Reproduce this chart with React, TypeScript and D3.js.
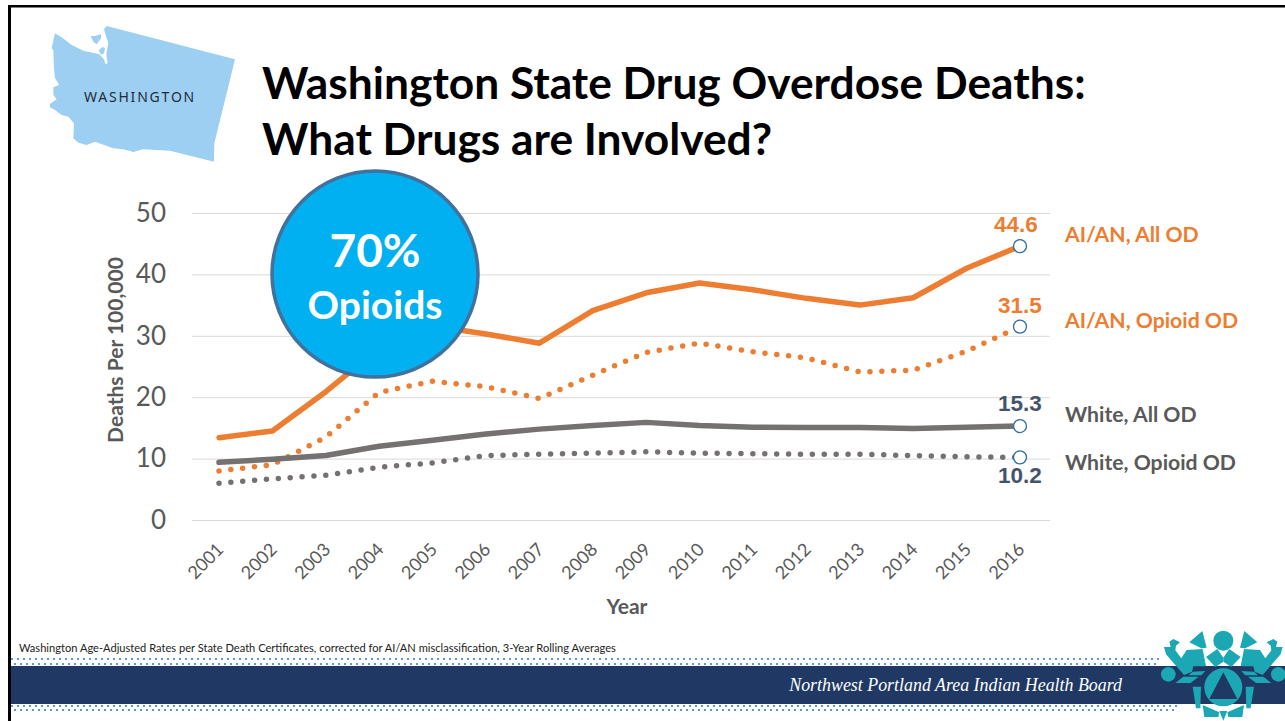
import React, { useEffect, useRef } from "react";
import * as d3 from "d3";

const years = [2001, 2002, 2003, 2004, 2005, 2006, 2007, 2008, 2009, 2010, 2011, 2012, 2013, 2014, 2015, 2016];
const aianAll = [13.4, 14.5, 20.9, 28, 31.6, 30.3, 28.8, 34.1, 37, 38.6, 37.5, 36.1, 35, 36.2, 41, 44.6];
const aianOpioid = [8, 9, 13.5, 20.8, 22.6, 21.7, 19.8, 23.6, 27.3, 28.8, 27.4, 26.4, 24.1, 24.4, 27.5, 31.5];
const whiteAll = [9.4, 9.9, 10.5, 12, 13, 14, 14.8, 15.4, 15.9, 15.4, 15.1, 15.05, 15.05, 14.9, 15.1, 15.3];
const whiteOpioid = [6, 6.7, 7.3, 8.6, 9.3, 10.5, 10.7, 10.9, 11.1, 10.9, 10.8, 10.7, 10.7, 10.5, 10.3, 10.2];
const yTicks = [0, 10, 20, 30, 40, 50];

const ORANGE = "#ED7D31";
const GREY = "#767171";
const NAVY = "#1F3864";
const TEAL = "#1BA8B4";
const LABEL_GREY = "#595959";
const VALUE_BLUE = "#44546A";
const CALIBRI = "Lato, Carlito, sans-serif";
const ARIAL = "'Liberation Sans', Arial, sans-serif";

const x = d3.scalePoint<number>().domain(years).range([219, 1020]);
const y = d3.scaleLinear().domain([0, 50]).range([520, 213]);

const lineGen = d3
  .line<number>()
  .x((_, i) => x(years[i]) as number)
  .y((d) => y(d));

const series = [
  { name: "White, Opioid OD", values: whiteOpioid, color: GREY, dotted: true },
  { name: "AI/AN, Opioid OD", values: aianOpioid, color: ORANGE, dotted: true },
  { name: "White, All OD", values: whiteAll, color: GREY, dotted: false },
  { name: "AI/AN, All OD", values: aianAll, color: ORANGE, dotted: false },
];

const endLabels = [
  { value: 44.6, text: "44.6", color: ORANGE, tx: 1016, ty: 232 },
  { value: 31.5, text: "31.5", color: ORANGE, tx: 1020, ty: 313 },
  { value: 15.3, text: "15.3", color: VALUE_BLUE, tx: 1020, ty: 411 },
  { value: 10.2, text: "10.2", color: VALUE_BLUE, tx: 1020, ty: 483 },
];

const sideLabels = [
  { text: "AI/AN, All OD", color: ORANGE, ty: 242 },
  { text: "AI/AN, Opioid OD", color: ORANGE, ty: 328 },
  { text: "White, All OD", color: LABEL_GREY, ty: 422 },
  { text: "White, Opioid OD", color: LABEL_GREY, ty: 470 },
];

// State outline, traced at triple scale.
const stateOutline =
  "M165,100 L185,112 L215,135 L250,152 L298,163 L312,178 L316,192 L323,190 L319,165 L321,150 L325,130 L312,88 L320,78 L705,178 L690,240 L643,430 L642,485 L510,452 L430,448 L400,456 L370,448 L340,445 L285,425 L260,435 L235,428 L220,415 L222,370 L205,350 L185,345 L165,330 L150,322 L150,312 L170,298 L160,285 L160,262 L178,255 L165,235 L162,205 L160,150 L155,145 Z";
const stateIslands = [
  "M272,108 L285,108 L303,103 L303,115 L290,133 L280,125 Z",
  "M296,150 L308,141 L315,145 L312,160 L303,164 Z",
];

// One half of the emblem at triple scale; the other half is its mirror image.
const emblemHalf = [
  "M88,52 L127,18 L140,68 L124,70 Z",
  "M80,75 L128,72 L138,124 L100,124 L96,140 L72,150 L18,88 L12,66 L32,66 L28,50 L40,42 L60,52 L48,62 L46,76 L64,100 Z",
  "M138,96 L172,72 L190,98 L190,110 L166,126 Z",
  "M98,140 L136,138 L124,151 L86,151 Z",
  "M46,174 L70,155 L116,155 L92,174 Z",
  "M98,185 L123,185 L121,250 L108,250 Z",
  "M128,240 L178,262 L175,276 L133,276 Z",
];

function Axes() {
  const ref = useRef<SVGGElement>(null);
  useEffect(() => {
    const g = d3.select(ref.current);
    g.selectAll("*").remove();

    const left = g.append("g").call(
      d3.axisLeft(y).tickValues(yTicks).tickSize(-(1050 - 192)).tickPadding(26).tickFormat(d3.format("d"))
    );
    left.attr("transform", "translate(192,0)");
    left.select(".domain").remove();
    left.selectAll("line").attr("stroke", "#D9D9D9").attr("stroke-width", 1);
    left
      .selectAll("text")
      .attr("fill", LABEL_GREY)
      .style("font-family", CALIBRI)
      .style("font-size", "26px");

    const bottom = g.append("g").call(d3.axisBottom(x).tickSize(0).tickFormat(d3.format("d")));
    bottom.attr("transform", "translate(0,520)");
    bottom.select(".domain").remove();
    bottom
      .selectAll("text")
      .attr("fill", LABEL_GREY)
      .attr("text-anchor", "middle")
      .attr("transform", "translate(-14,41) rotate(-45)")
      .attr("y", 0)
      .attr("dy", "0.35em")
      .style("font-family", CALIBRI)
      .style("font-size", "18px");
  }, []);
  return <g ref={ref} />;
}

function EmblemHalf() {
  return (
    <>
      <circle cx={25} cy={148} r={22} />
      {emblemHalf.map((p) => (
        <path key={p} d={p} />
      ))}
    </>
  );
}

export default function App() {
  const topDots = 659;
  const bottomDots = 706;
  return (
    <svg
      width={1285}
      height={721}
      viewBox="0 0 1285 721"
      style={{ position: "fixed", left: 0, top: 0, display: "block", background: "#fff" }}
    >
      {/* slide frame */}
      <rect x={0} y={0} width={1285} height={721} fill="#fff" />
      <rect x={8} y={5} width={1277} height={2.5} fill="#000" />
      <rect x={8} y={5} width={3} height={716} fill="#000" />

      {/* state map */}
      <g transform="scale(0.3333)" fill="#9DCFF3">
        <path d={stateOutline} />
        {stateIslands.map((p) => (
          <path key={p} d={p} />
        ))}
      </g>
      <text x={140} y={102} textAnchor="middle" fontFamily="'Noto Sans', sans-serif" fontSize={14} letterSpacing={1.8} fill="#1F2D3A">
        WASHINGTON
      </text>

      {/* title */}
      <g fontFamily={CALIBRI} fontWeight={700} fontSize={44.3} fill="#000">
        <text x={262} y={99}>Washington State Drug Overdose Deaths:</text>
        <text x={262} y={155}>What Drugs are Involved?</text>
      </g>

      <Axes />

      <text transform="translate(123,350) rotate(-90)" textAnchor="middle" fontFamily={CALIBRI} fontWeight={700} fontSize={21} fill={LABEL_GREY}>
        Deaths Per 100,000
      </text>
      <text x={627} y={614} textAnchor="middle" fontFamily={CALIBRI} fontWeight={700} fontSize={21} fill={LABEL_GREY}>
        Year
      </text>

      {/* rate lines */}
      {series.map((s) => (
        <path
          key={s.name}
          d={lineGen(s.values) as string}
          fill="none"
          stroke={s.color}
          strokeWidth={5.5}
          strokeLinecap="round"
          strokeLinejoin="round"
          strokeDasharray={s.dotted ? "0 11.9" : undefined}
        />
      ))}

      {/* end-of-series markers and values */}
      {endLabels.map((d) => (
        <g key={d.text}>
          <circle cx={x(2016)} cy={y(d.value)} r={6.5} fill="#fff" stroke="#2E6CA4" strokeWidth={1.3} />
          <text x={d.tx} y={d.ty} textAnchor="middle" fontFamily={ARIAL} fontWeight={700} fontSize={22.5} fill={d.color}>
            {d.text}
          </text>
        </g>
      ))}
      {sideLabels.map((d) => (
        <text key={d.text} x={1065} y={d.ty} fontFamily={CALIBRI} fontWeight={700} fontSize={21.2} fill={d.color}>
          {d.text}
        </text>
      ))}

      {/* callout */}
      <circle cx={375} cy={274} r={103} fill="#00B0F0" stroke="#41719C" strokeWidth={3.5} />
      <text x={375} y={267} textAnchor="middle" fontFamily={CALIBRI} fontWeight={700} fontSize={46} fill="#fff">70%</text>
      <text x={375} y={319} textAnchor="middle" fontFamily={CALIBRI} fontWeight={700} fontSize={39} fill="#fff">Opioids</text>

      {/* footnote and footer band */}
      <text x={19} y={652} fontFamily={CALIBRI} fontSize={11.1} fill="#222">
        Washington Age-Adjusted Rates per State Death Certificates, corrected for AI/AN misclassification, 3-Year Rolling Averages
      </text>
      <g stroke="#5B9BD5" strokeWidth={2}>
        <line x1={11} x2={1160} y1={topDots} y2={topDots} strokeDasharray="2 4" />
        <line x1={14} x2={1160} y1={topDots + 5} y2={topDots + 5} strokeDasharray="2 4" />
        <line x1={11} x2={1178} y1={bottomDots} y2={bottomDots} strokeDasharray="2 4" />
        <line x1={14} x2={1178} y1={bottomDots + 4} y2={bottomDots + 4} strokeDasharray="2 4" />
      </g>
      <rect x={11} y={666} width={1274} height={38} fill={NAVY} />
      <text x={1122} y={691} textAnchor="end" fontFamily="'Liberation Serif', serif" fontStyle="italic" fontSize={17.9} fill="#fff">
        Northwest Portland Area Indian Health Board
      </text>

      {/* emblem */}
      <g transform="translate(1160,625) scale(0.3333)" fill={TEAL}>
        <circle cx={190} cy={47} r={30} />
        <circle cx={190} cy={187} r={57} />
        <path d="M190,142 L232,222 L148,222 Z" fill={NAVY} />
        <path d="M178,258 L202,258 L190,287 Z" />
        <EmblemHalf />
        <g transform="translate(380,0) scale(-1,1)">
          <EmblemHalf />
        </g>
      </g>
    </svg>
  );
}
